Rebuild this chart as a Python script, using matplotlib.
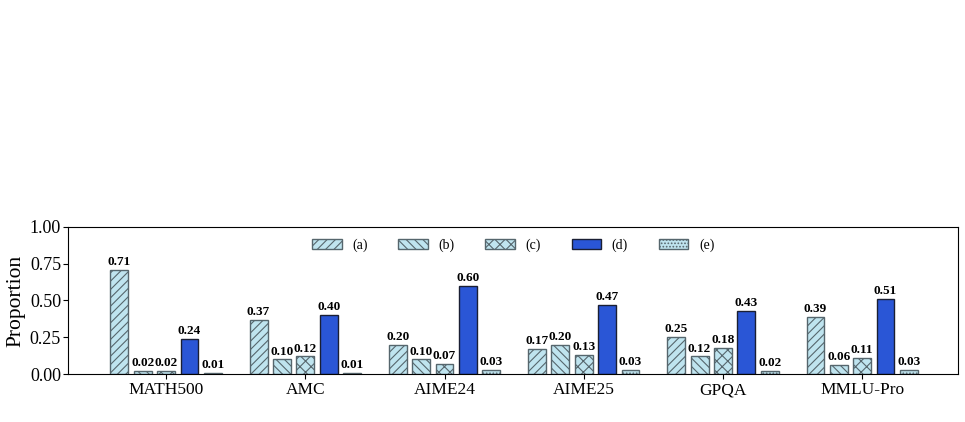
import numpy as np
import matplotlib.pyplot as plt

plt.rcParams['font.family'] = ['Liberation Serif', 'DejaVu Serif']

datasets = ['MATH500', 'AMC', 'AIME24', 'AIME25', 'GPQA', 'MMLU-Pro']
labels = ['(a)', '(b)', '(c)', '(d)', '(e)']
a = [0.71, 0.37, 0.20, 0.17, 0.25, 0.39]
b = [0.02, 0.10, 0.10, 0.20, 0.12, 0.06]
c = [0.02, 0.12, 0.07, 0.13, 0.18, 0.11]
d = [0.24, 0.40, 0.60, 0.47, 0.43, 0.51]
e = [0.01, 0.01, 0.03, 0.03, 0.02, 0.03]
series = [a, b, c, d, e]

hatches = ['////', '\\\\\\\\', 'xxx', '', '.....']
colors = ['#bfe4ef', '#bfe4ef', '#bfe4ef', '#2a56d6', '#bfe4ef']
edges = ['#56666d', '#56666d', '#56666d', '#1a1f33', '#56666d']

plt.rcParams['hatch.color'] = '#56666d'
plt.rcParams['hatch.linewidth'] = 0.8

fig = plt.figure(figsize=(9.65, 4.22), dpi=100)
ax = fig.add_axes([0.0705, 0.1137, 0.9225, 0.3485])

x = np.arange(len(datasets))
step = 0.168
width = 0.128
for i, vals in enumerate(series):
    pos = x + (i - 2) * step
    ax.bar(pos, vals, width, color=colors[i], hatch=hatches[i],
           edgecolor=edges[i], linewidth=1.0, label=labels[i])
    for p, v in zip(pos, vals):
        ax.text(p, v + 0.012, f'{v:.2f}', ha='center', va='bottom',
                fontsize=9.5, fontweight='bold')

ax.set_xlim(-0.705, 5.69)
ax.set_ylim(0, 1.0)
ax.set_yticks([0, 0.25, 0.5, 0.75, 1.0])
ax.set_yticklabels(['0.00', '0.25', '0.50', '0.75', '1.00'], fontsize=13)
ax.set_xticks(x)
ax.set_xticklabels(datasets, fontsize=12.5)
ax.tick_params(axis='y', pad=1.5)
ax.tick_params(axis='x', pad=2.5)
ax.set_ylabel('Proportion', fontsize=15.5, labelpad=3)

ax.legend(loc='upper center', ncol=5, frameon=False, fontsize=10,
          bbox_to_anchor=(0.5, 1.005), handlelength=2.15, columnspacing=2.2,
          handletextpad=0.75)

fig.savefig('out.png', dpi=100)
